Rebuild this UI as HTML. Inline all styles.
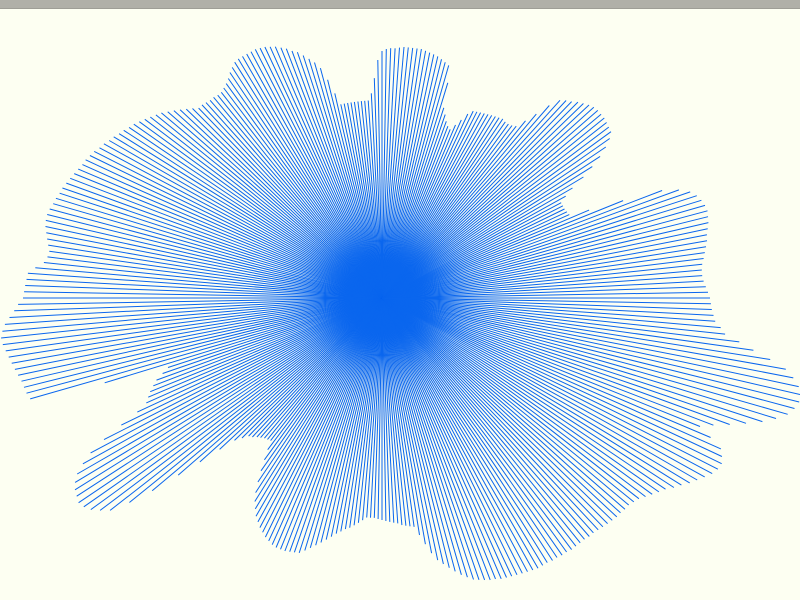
<!DOCTYPE html>
<html><head><meta charset="utf-8"><style>
html,body{margin:0;padding:0;background:#fdfff2;}
#wrap{position:relative;width:800px;height:600px;overflow:hidden;background:#fdfff2;}
#topbar{position:absolute;left:0;top:0;width:800px;height:8px;background:#b0b0a8;border-bottom:1px solid #9e9e96;}
svg{position:absolute;left:0;top:0;}
</style></head><body>
<div id="wrap">
<div id="topbar"></div>
<svg id="chart" width="800" height="600"></svg>
</div>
<script>
// ray radii at even angles (0,2,4,...) and odd angles (1,3,5,...), degrees CCW from right
const evenRadii = [328,324,321,322,326,330,333,336,336,331,316,260,205,203,203,220,248,270,283,285,
286,285,280,273,266,240,218,215,216,214,212,210,208,195,182,188,200,242,246,249,
251,252,252,251,250,247,220,198,198,198,198,198,225,245,255,263,270,275,278,279,
279,278,272,265,261,262,263,264,272,280,288,294,300,305,310,315,320,325,328,332,
336,339,342,345,344,340,336,340,355,357,359,368,378,383,380,376,372,369,366,225,
240,250,258,290,330,352,362,366,360,345,300,245,205,192,187,183,181,200,222,240,
252,260,266,270,271,270,268,260,252,244,237,232,226,220,220,222,224,226,229,231,
250,268,278,288,296,300,303,306,308,310,312,312,313,314,315,315,316,318,320,321,
322,326,334,342,353,364,374,378,371,343,370,400,422,430,426,410,375,345,334,330];
const oddRadii = [326,322,321,324,328,331,335,337,334,326,300,225,204,203,210,235,260,278,284,286,
286,283,277,270,255,228,216,215,215,213,211,209,203,188,184,194,225,244,248,250,
252,252,252,250,249,238,205,198,198,198,198,210,238,250,260,267,273,277,279,279,
279,275,268,263,261,262,264,268,276,284,291,297,303,308,313,318,323,327,330,334,
338,341,344,345,342,338,337,348,356,358,364,373,381,382,378,374,370,368,290,232,
245,254,270,312,342,358,364,364,353,325,270,222,198,190,185,182,190,211,232,246,
256,263,268,271,271,269,264,256,248,240,234,229,223,220,221,223,225,228,230,240,
260,273,283,292,298,302,305,307,309,311,312,313,314,315,315,316,317,319,321,322,
324,330,338,348,359,369,377,375,357,355,385,412,427,429,419,393,360,340,332,329];

const cx = 382, cy = 298;
function xPos(angle, r){ return cx + r * Math.cos(angle * Math.PI / 180); }
function yPos(angle, r){ return cy - r * Math.sin(angle * Math.PI / 180); }

const svg = document.getElementById('chart');
const NS = 'http://www.w3.org/2000/svg';
const g = document.createElementNS(NS, 'g');


svg.appendChild(g);
function drawRay(angle, r){
  const ln = document.createElementNS(NS, 'line');
  ln.setAttribute('x1', cx);
  ln.setAttribute('y1', cy);
  ln.setAttribute('x2', xPos(angle, r).toFixed(1));
  ln.setAttribute('y2', yPos(angle, r).toFixed(1));
  ln.setAttribute('stroke', '#0a66ee');
  ln.setAttribute('stroke-width', '1');
  
  
  g.appendChild(ln);
}
for (let i = 0; i < evenRadii.length; i++) drawRay(i * 2, evenRadii[i]);
for (let i = 0; i < oddRadii.length; i++) drawRay(i * 2 + 1, oddRadii[i]);
</script>
</body></html>
